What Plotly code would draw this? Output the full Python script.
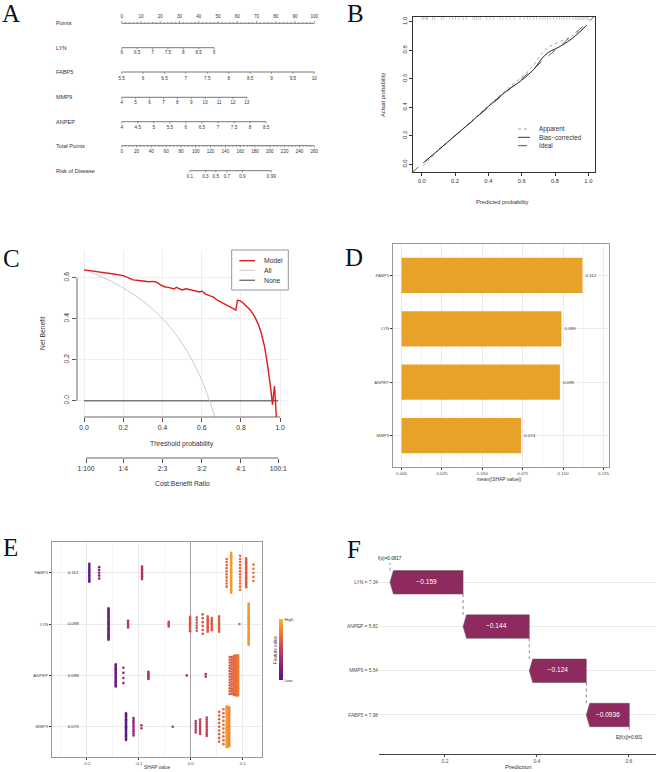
import plotly.graph_objects as go

W, H = 658, 772

# ======================= DATA =======================
# Panel A - nomogram
points_ticks = [0, 10, 20, 30, 40, 50, 60, 70, 80, 90, 100]
lyn_ticks = [6, 6.5, 7, 7.5, 8, 8.5, 9]
lyn_max_points = 48
fabp5_ticks = [5.5, 6, 6.5, 7, 7.5, 8, 8.5, 9, 9.5, 10]
fabp5_max_points = 100
mmp9_ticks = [4, 5, 6, 7, 8, 9, 10, 11, 12, 13]
mmp9_max_points = 65
anpep_ticks = [4, 4.5, 5, 5.5, 6, 6.5, 7, 7.5, 8, 8.5]
anpep_max_points = 75
total_points_ticks = [0, 20, 40, 60, 80, 100, 120, 140, 160, 180, 200, 220, 240, 260]
total_points_max = 260
risk_ticks = [0.1, 0.3, 0.5, 0.7, 0.9, 0.99]
risk_total_points = [92, 113, 127, 142, 163, 202]

# Panel B - calibration
calib_pred = [0.01, 0.1, 0.2, 0.3, 0.4, 0.5, 0.6, 0.65, 0.68, 0.72, 0.76, 0.8, 0.85, 0.9, 0.95, 0.99]
apparent = [-0.01, 0.095, 0.2, 0.305, 0.41, 0.515, 0.612, 0.665, 0.71, 0.775, 0.82, 0.845, 0.87, 0.9, 0.94, 0.975]
bias_corrected = [0.01, 0.1, 0.2, 0.3, 0.405, 0.505, 0.59, 0.64, 0.675, 0.74, 0.785, 0.808, 0.84, 0.88, 0.93, 0.975]
ideal = [-0.06, 1.06]
rug_pred = [0.0, 0.01, 0.02, 0.03, 0.035, 0.065, 0.078, 0.118, 0.132, 0.168, 0.185, 0.203, 0.225,
            0.249, 0.269, 0.309, 0.319, 0.329, 0.343, 0.355, 0.39, 0.41, 0.43, 0.47, 0.486, 0.51,
            0.53, 0.554, 0.59, 0.614, 0.634, 0.65, 0.67, 0.69, 0.71, 0.727, 0.741, 0.755, 0.771,
            0.791, 0.811, 0.827, 0.841, 0.855, 0.871, 0.887, 0.907, 0.922, 0.932, 0.942, 0.952,
            0.962, 0.972, 0.982, 0.992, 1.0]

# Panel C - decision curve
thr_model = [0, 0.05, 0.1, 0.15, 0.2, 0.22, 0.25, 0.28, 0.3, 0.33, 0.35, 0.37, 0.39, 0.41, 0.43,
             0.45, 0.46, 0.47, 0.48, 0.5, 0.52, 0.55, 0.57, 0.59, 0.6, 0.62, 0.64, 0.66, 0.68,
             0.7, 0.72, 0.74, 0.76, 0.774, 0.782, 0.795, 0.81, 0.83, 0.85, 0.87, 0.89, 0.905,
             0.92, 0.935, 0.945, 0.953, 0.961, 0.971, 0.976, 0.981]
nb_model = [0.638, 0.632, 0.625, 0.618, 0.61, 0.603, 0.589, 0.586, 0.584, 0.58, 0.582, 0.578,
            0.565, 0.556, 0.553, 0.549, 0.545, 0.553, 0.548, 0.54, 0.546, 0.54, 0.536, 0.53,
            0.535, 0.52, 0.512, 0.505, 0.49, 0.478, 0.47, 0.46, 0.45, 0.442, 0.49, 0.488,
            0.478, 0.46, 0.44, 0.41, 0.37, 0.325, 0.265, 0.18, 0.12, 0.05, -0.02, 0.072, 0.0, -0.09]
thr_all = [0, 0.05, 0.1, 0.15, 0.2, 0.25, 0.3, 0.35, 0.4, 0.45, 0.5, 0.55, 0.6, 0.625, 0.65, 0.667]
nb_all = [0.64, 0.621, 0.6, 0.577, 0.55, 0.52, 0.486, 0.446, 0.4, 0.345, 0.28, 0.2, 0.1, 0.04, -0.029, -0.081]
thr_none = [0, 0.99]
nb_none = [0, 0]
cb_ticks = [0.01, 0.2, 0.4, 0.6, 0.8, 0.99]
cb_labels = ["1:100", "1:4", "2:3", "3:2", "4:1", "100:1"]

# Panel D - mean |SHAP|
shap_features = ["FABP5", "LYN", "ANPEP", "MMP9"]
mean_abs_shap = [0.112, 0.099, 0.098, 0.074]

# Panel E - SHAP beeswarm columns: (shap value, n points, half spread, feature value 0..1)
beeswarm = {
    "FABP5": [(-0.195, 12, 0.175, 0.06), (-0.176, 5, 0.11, 0.25), (-0.0936, 10, 0.123, 0.42),
              (0.069, 10, 0.27, 0.68), (0.0777, 35, 0.39, 0.9), (0.0949, 12, 0.33, 0.7),
              (0.1065, 24, 0.28, 0.66), (0.1205, 5, 0.16, 0.72)],
    "LYN": [(-0.158, 28, 0.306, 0.15), (-0.1205, 6, 0.065, 0.45), (-0.0423, 4, 0.045, 0.52),
            (-0.0013, 10, 0.14, 0.6), (0.0115, 6, 0.13, 0.6), (0.023, 6, 0.19, 0.6),
            (0.0327, 12, 0.15, 0.62), (0.0404, 8, 0.12, 0.62), (0.0545, 10, 0.15, 0.65),
            (0.0936, 1, 0.0, 0.7), (0.1115, 40, 0.4, 0.9)],
    "ANPEP": [(-0.1442, 18, 0.216, 0.12), (-0.1295, 4, 0.15, 0.3), (-0.0814, 6, 0.07, 0.38),
              (-0.0077, 1, 0.0, 0.38), (0.0289, 2, 0.025, 0.4), (0.075, 14, 0.36, 0.62),
              (0.079, 16, 0.36, 0.66), (0.083, 20, 0.38, 0.7), (0.087, 34, 0.39, 0.72),
              (0.091, 34, 0.39, 0.78)],
    "MMP9": [(-0.1244, 24, 0.26, 0.06), (-0.110, 10, 0.17, 0.28), (-0.0948, 2, 0.03, 0.38),
             (-0.0346, 1, 0.0, 0.4), (0.0096, 6, 0.11, 0.46), (0.018, 8, 0.14, 0.48),
             (0.0308, 10, 0.18, 0.5), (0.0545, 9, 0.29, 0.65), (0.0628, 10, 0.34, 0.7),
             (0.0692, 40, 0.4, 0.92), (0.0737, 38, 0.38, 0.82)],
}
shap_importance_labels = ["0.112", "0.099", "0.098", "0.074"]

# Panel F - waterfall
wf_labels = ["LYN = 7.34", "ANPEP = 5.82", "MMP9 = 5.54", "FABP5 = 7.98"]
wf_contrib = [-0.159, -0.144, -0.124, -0.0936]
f_x = 0.0817
e_f_x = 0.601

# ======================= HELPERS =======================
FONT = "Liberation Sans, Arial, sans-serif"
SERIF = "Liberation Serif, Times New Roman, serif"

fig = go.Figure()
annotations = []
shapes = []


def dom_x(a, b):
    return [a / W, b / W]


def dom_y(top, bottom):
    return [1 - bottom / H, 1 - top / H]


def T(**kw):
    kw.setdefault("showlegend", False)
    kw.setdefault("hoverinfo", "skip")
    fig.add_trace(go.Scatter(**kw))


def ann(text, px, py, size, xanchor="center", yanchor="middle", angle=0, family=FONT, color="#333"):
    annotations.append(dict(text=text, x=px / W, y=1 - py / H, xref="paper", yref="paper",
                            showarrow=False, xanchor=xanchor, yanchor=yanchor, textangle=angle,
                            font=dict(size=size, family=family, color=color)))


def fmt(v):
    return "%g" % v


# ======================= PANEL A =======================
A_x0, A_scale = 121.7, 1.926  # px of 0 points, px per point
xA_range = [(0 - A_x0) / A_scale, (329 - A_x0) / A_scale]


def scale_pts(vals, vmin, vmax, maxpts):
    return [(v - vmin) / (vmax - vmin) * maxpts for v in vals]


def add_row(pos, labels, line_y, lab_y, tick_len, minor=None, minor_len=0):
    T(x=[min(pos), max(pos)], y=[line_y, line_y], mode="lines",
      line=dict(color="#555", width=0.8), xaxis="x", yaxis="y")
    xs, ys = [], []
    for p in pos:
        xs += [p, p, None]
        ys += [line_y, line_y + tick_len, None]
    for p in (minor or []):
        xs += [p, p, None]
        ys += [line_y, line_y + minor_len, None]
    T(x=xs, y=ys, mode="lines", line=dict(color="#555", width=0.6), xaxis="x", yaxis="y")
    T(x=pos, y=[lab_y] * len(pos), mode="text", text=labels,
      textfont=dict(size=4.6, color="#333", family=FONT), xaxis="x", yaxis="y", cliponaxis=False)


def row_name(text, y):
    annotations.append(dict(text=text, x=-35, y=y, xref="x", yref="y", showarrow=False,
                            xanchor="left", yanchor="middle",
                            font=dict(size=5.6, family=FONT, color="#333")))


minor_pts = [v for v in range(0, 101, 2) if v % 10]
add_row(points_ticks, [fmt(v) for v in points_ticks], 23.3, 16.7, -2.2, minor_pts, -1.2)
row_name("Points", 23.3)
add_row(scale_pts(lyn_ticks, lyn_ticks[0], lyn_ticks[-1], lyn_max_points),
        [fmt(v) for v in lyn_ticks], 47.7, 53.3, 1.8)
row_name("LYN", 47.7)
add_row(scale_pts(fabp5_ticks, fabp5_ticks[0], fabp5_ticks[-1], fabp5_max_points),
        [fmt(v) for v in fabp5_ticks], 72, 79, 1.8)
row_name("FABP5", 72)
add_row(scale_pts(mmp9_ticks, mmp9_ticks[0], mmp9_ticks[-1], mmp9_max_points),
        [fmt(v) for v in mmp9_ticks], 97.3, 103.3, 1.8)
row_name("MMP9", 97.3)
add_row(scale_pts(anpep_ticks, anpep_ticks[0], anpep_ticks[-1], anpep_max_points),
        [fmt(v) for v in anpep_ticks], 121.7, 127.7, 1.8)
row_name("ANPEP", 121.7)
minor_tot = [v * 100 / total_points_max for v in range(0, total_points_max + 1, 5) if v % 20]
add_row([v * 100 / total_points_max for v in total_points_ticks],
        [fmt(v) for v in total_points_ticks], 145.7, 152.3, 1.8, minor_tot, 1.1)
row_name("Total Points", 145.7)
add_row([v * 100 / total_points_max for v in risk_total_points],
        [fmt(v) for v in risk_ticks], 170.7, 176.7, 1.8)
row_name("Risk of Disease", 170.7)

# ======================= PANEL B =======================
rx, ry = [], []
for v in rug_pred:
    rx += [v, v, None]
    ry += [1.012, 1.033, None]
T(x=rx, y=ry, mode="lines", line=dict(color="#aaa", width=0.6), xaxis="x2", yaxis="y2")
T(x=ideal, y=ideal, mode="lines", line=dict(color="#444", width=0.8, dash="dash"), xaxis="x2", yaxis="y2")
T(x=calib_pred, y=apparent, mode="lines", line=dict(color="#999", width=0.9, dash="dot", shape="spline"),
  xaxis="x2", yaxis="y2")
T(x=calib_pred, y=bias_corrected, mode="lines", line=dict(color="#222", width=1.0, shape="spline"),
  xaxis="x2", yaxis="y2")

for (txt, py, col, dash) in [("Apparent", 129, "#999", "dot"), ("Bias\u2212corrected", 137.3, "#222", "solid"),
                             ("Ideal", 145.7, "#444", "dash")]:
    shapes.append(dict(type="line", xref="paper", yref="paper", x0=518 / W, x1=530 / W,
                       y0=1 - py / H, y1=1 - py / H, line=dict(color=col, width=0.9, dash=dash)))
    ann(txt, 537, py, 6.3, xanchor="left")
ann("Actual probability", 383, 95, 5.8, angle=-90)
ann("Predicted probability", 503, 202, 5.8)

# ======================= PANEL C =======================
T(x=thr_none, y=nb_none, mode="lines", line=dict(color="#777", width=1.6), xaxis="x3", yaxis="y3")
T(x=thr_all, y=nb_all, mode="lines", line=dict(color="#c4c4c4", width=0.9, shape="spline"),
  xaxis="x3", yaxis="y3")
T(x=thr_model, y=nb_model, mode="lines", line=dict(color="#dd1c1c", width=1.4), xaxis="x3", yaxis="y3")
T(x=cb_ticks, y=[None] * len(cb_ticks), mode="lines", xaxis="x4", yaxis="y3")

shapes.append(dict(type="line", xref="x3", yref="paper", x0=0, x1=1, y0=1 - 417 / H, y1=1 - 417 / H,
                   line=dict(color="#555", width=0.9)))
shapes.append(dict(type="line", xref="paper", yref="y3", x0=77 / W, x1=77 / W, y0=0, y1=0.6,
                   line=dict(color="#555", width=0.9)))
shapes.append(dict(type="line", xref="x3", yref="paper", x0=cb_ticks[0], x1=cb_ticks[-1],
                   y0=1 - 458 / H, y1=1 - 458 / H, line=dict(color="#555", width=0.9)))
shapes.append(dict(type="rect", xref="paper", yref="paper", x0=231.7 / W, x1=288.3 / W,
                   y0=1 - 290 / H, y1=1 - 250 / H, line=dict(color="#888", width=0.9),
                   fillcolor="white"))
for (txt, py, col, wd) in [("Model", 260.7, "#dd1c1c", 1.4), ("All", 270.3, "#c4c4c4", 0.9),
                           ("None", 280.3, "#777", 1.4)]:
    shapes.append(dict(type="line", xref="paper", yref="paper", x0=239.3 / W, x1=255 / W,
                       y0=1 - py / H, y1=1 - py / H, line=dict(color=col, width=wd)))
    ann(txt, 261.7, py, 6.8, xanchor="left")
ann("Net Benefit", 42, 333, 6.8, angle=-90)
ann("Threshold probability", 182, 444, 6.8)
ann("Cost:Benefit Ratio", 182, 483, 6.8)

# ======================= PANEL D =======================
fig.add_trace(go.Bar(x=mean_abs_shap, y=shap_features, orientation="h", width=0.66,
                     marker=dict(color="#E8A22A", line=dict(width=0)),
                     text=shap_importance_labels, textposition="outside", cliponaxis=False,
                     textfont=dict(size=4.4, color="#333", family=FONT),
                     xaxis="x5", yaxis="y5", showlegend=False, hoverinfo="skip"))
ann("mean(|SHAP value|)", 499, 479, 4.9)

# ======================= PANEL E =======================
ex, ey, ec = [], [], []
n_feat = len(shap_features)
for fi, feat in enumerate(shap_features):
    yc = n_feat - 1 - fi
    for (sx, n, hs, fv) in beeswarm[feat]:
        for k in range(n):
            off = 0.0 if n == 1 else -hs + 2 * hs * k / (n - 1)
            ex.append(sx)
            ey.append(yc + off)
            ec.append(fv)
colorscale = [[0, "#4A1A8A"], [0.25, "#8E2177"], [0.5, "#C73E5C"], [0.75, "#EC7434"], [1, "#F7B42C"]]
T(x=ex, y=ey, mode="markers", xaxis="x6", yaxis="y6",
  marker=dict(size=2.6, color=ec, colorscale=colorscale, cmin=0, cmax=1, line=dict(width=0),
              showscale=True,
              colorbar=dict(x=278.5 / W, xanchor="left", y=1 - 649.5 / H, yanchor="middle",
                            len=61, lenmode="pixels", thickness=4, outlinewidth=0,
                            xpad=0, ypad=0, tickvals=[0, 1], ticktext=["Low", "High"],
                            ticks="", ticklabelposition="outside",
                            tickfont=dict(size=4.4, color="#333", family=FONT))))
T(x=[-0.226] * n_feat, y=[n_feat - 1 - i for i in range(n_feat)], mode="text",
  text=shap_importance_labels, textfont=dict(size=4.4, color="#333", family=FONT),
  xaxis="x6", yaxis="y6")
ann("Feature value", 275, 650, 4.6, angle=-90)
ann("SHAP value", 157, 767.5, 4.9)

# ======================= PANEL F =======================
half_h = 0.265
head = 0.0075
n_wf = len(wf_labels)
right = e_f_x
bars = []
for i in range(n_wf - 1, -1, -1):  # bottom (FABP5) to top (LYN)
    left = right + wf_contrib[i]
    bars.append((i, left, right))
    right = left
bars.sort()  # top (LYN) first
for (i, left, rgt) in bars:
    yc = n_wf - 1 - i
    px_ = [rgt, left + head, left, left + head, rgt, rgt]
    py_ = [yc + half_h, yc + half_h, yc, yc - half_h, yc - half_h, yc + half_h]
    T(x=px_, y=py_, mode="lines", fill="toself", fillcolor="#8F2A5E",
      line=dict(color="#555", width=0.5), xaxis="x7", yaxis="y7")
    T(x=[(left + rgt) / 2], y=[yc], mode="text", text=["\u2212%g" % abs(wf_contrib[i])],
      textfont=dict(size=6.6, color="white", family=FONT), xaxis="x7", yaxis="y7")
# dashed connectors
cx, cy = [], []
top_left = bars[0][1]
cx += [top_left, top_left, None]
cy += [n_wf - 1 + half_h, n_wf - 1 + 0.44, None]
for (i, left, rgt) in bars[1:]:
    yc = n_wf - 1 - i
    cx += [left, left, None]
    cy += [yc + 1 - half_h, yc + half_h, None]
last_right = bars[-1][2]
cx += [last_right, last_right, None]
cy += [-half_h, -0.39, None]
T(x=cx, y=cy, mode="lines", line=dict(color="#555", width=0.7, dash="dot"), xaxis="x7", yaxis="y7")
annotations.append(dict(text="f(x)=%g" % f_x, x=top_left, y=n_wf - 1 + 0.55, xref="x7", yref="y7",
                        showarrow=False, font=dict(size=4.6, color="#222", family=FONT)))
annotations.append(dict(text="E[f(x)]=%g" % e_f_x, x=last_right, y=-0.51, xref="x7", yref="y7",
                        showarrow=False, font=dict(size=4.6, color="#222", family=FONT)))
ann("Prediction", 518, 767, 6)

# ======================= PANEL LETTERS =======================
for (L, px, py) in [("A", 11, 13.5), ("B", 355, 13.5), ("C", 11.5, 258), ("D", 354, 257),
                    ("E", 10, 547.5), ("F", 353.5, 549)]:
    ann(L, px, py, 25, family=SERIF, color="#111")

# ======================= LAYOUT =======================
tickf = dict(size=5.8, color="#333", family=FONT)
small = dict(size=4.4, color="#4D4D4D", family=FONT)
hidden = dict(visible=False, showgrid=False, zeroline=False)

layout = dict(
    width=W, height=H, margin=dict(l=0, r=0, t=0, b=0),
    paper_bgcolor="white", plot_bgcolor="rgba(0,0,0,0)",
    showlegend=False, font=dict(family=FONT),
    xaxis=dict(domain=dom_x(0, 329), range=xA_range, anchor="y", **hidden),
    yaxis=dict(domain=dom_y(0, 200), range=[200, 0], anchor="x", **hidden),
    xaxis2=dict(domain=dom_x(413, 595), range=[-0.052, 1.04], anchor="y2", showline=True, mirror=True,
                linecolor="#333", linewidth=0.8, ticks="outside", ticklen=3, tickcolor="#333",
                tickvals=[0, 0.2, 0.4, 0.6, 0.8, 1.0], ticktext=["0.0", "0.2", "0.4", "0.6", "0.8", "1.0"],
                tickfont=tickf, showgrid=False, zeroline=False),
    yaxis2=dict(domain=dom_y(17, 172), range=[-0.054, 1.033], anchor="x2", showline=True, mirror=True,
                linecolor="#333", linewidth=0.8, ticks="outside", ticklen=3, tickcolor="#333",
                tickvals=[0, 0.2, 0.4, 0.6, 0.8, 1.0], ticktext=["0.0", "0.2", "0.4", "0.6", "0.8", "1.0"],
                tickangle=-90, tickfont=tickf, showgrid=False, zeroline=False),
    xaxis3=dict(domain=dom_x(77, 288), range=[-0.036, 1.04], anchor="y3", showline=False,
                ticks="outside", ticklen=4, tickcolor="#555",
                tickvals=[0, 0.2, 0.4, 0.6, 0.8, 1.0], ticktext=["0.0", "0.2", "0.4", "0.6", "0.8", "1.0"],
                tickfont=dict(size=6.8, color="#333", family=FONT), showgrid=True, gridcolor="#EEEEEE",
                gridwidth=0.8, zeroline=False),
    yaxis3=dict(domain=dom_y(250, 417), range=[-0.0795, 0.735], anchor="x3", showline=False,
                ticks="outside", ticklen=4, tickcolor="#555",
                tickvals=[0, 0.2, 0.4, 0.6], ticktext=["0.0", "0.2", "0.4", "0.6"], tickangle=-90,
                tickfont=dict(size=6.8, color="#333", family=FONT), showgrid=True, gridcolor="#EEEEEE",
                gridwidth=0.8, zeroline=False),
    xaxis4=dict(overlaying="x3", anchor="free", position=1 - 458 / H, side="bottom",
                range=[-0.036, 1.04], tickvals=cb_ticks, ticktext=cb_labels, ticks="outside",
                ticklen=4, tickcolor="#555", tickfont=dict(size=6.8, color="#333", family=FONT),
                showgrid=False, zeroline=False, showline=False),
    xaxis5=dict(domain=dom_x(393, 609), range=[-0.0053, 0.1284], anchor="y5", showline=True, mirror=True,
                linecolor="#999", linewidth=0.8, ticks="outside", ticklen=2, tickcolor="#333",
                tickvals=[0, 0.025, 0.05, 0.075, 0.1, 0.125],
                ticktext=["0.000", "0.025", "0.050", "0.075", "0.100", "0.125"], tickfont=small,
                showgrid=True, gridcolor="#EBEBEB", gridwidth=0.7, zeroline=False,
                minor=dict(tickvals=[0.0125, 0.0375, 0.0625, 0.0875, 0.1125], showgrid=True,
                           gridcolor="#F4F4F4", gridwidth=0.5, ticks="")),
    yaxis5=dict(domain=dom_y(244, 467), type="category", categoryorder="array",
                categoryarray=shap_features[::-1], range=[-0.59, 3.59], anchor="x5", showline=True,
                mirror=True, linecolor="#999", linewidth=0.8, ticks="outside", ticklen=2, tickcolor="#333",
                tickfont=small, showgrid=True, gridcolor="#EBEBEB", gridwidth=0.7, zeroline=False),
    xaxis6=dict(domain=dom_x(52, 262), range=[-0.2667, 0.137], anchor="y6", showline=True, mirror=True,
                linecolor="#999", linewidth=0.8, ticks="outside", ticklen=2, tickcolor="#333",
                tickvals=[-0.2, -0.1, 0, 0.1], ticktext=["-0.2", "-0.1", "0.0", "0.1"], tickfont=small,
                showgrid=True, gridcolor="#EBEBEB", gridwidth=0.7, zeroline=True, zerolinecolor="#A0A0A0",
                zerolinewidth=1,
                minor=dict(tickvals=[-0.25, -0.15, -0.05, 0.05], showgrid=True, gridcolor="#F4F4F4",
                           gridwidth=0.5, ticks="")),
    yaxis6=dict(domain=dom_y(542, 757), range=[-0.59, 3.6], anchor="x6", showline=True, mirror=True,
                linecolor="#999", linewidth=0.8, ticks="outside", ticklen=2, tickcolor="#333",
                tickvals=[n_feat - 1 - i for i in range(n_feat)], ticktext=shap_features, tickfont=small,
                showgrid=True, gridcolor="#EBEBEB", gridwidth=0.7, zeroline=False),
    xaxis7=dict(domain=dom_x(379, 656), range=[0.0565, 0.659], anchor="y7", showline=True,
                linecolor="#444", linewidth=1.2, ticks="outside", ticklen=2, tickcolor="#444",
                tickvals=[0.2, 0.4, 0.6], ticktext=["0.2", "0.4", "0.6"],
                tickfont=dict(size=5, color="#4D4D4D", family=FONT), showgrid=False, zeroline=False),
    yaxis7=dict(domain=dom_y(545, 754), range=[-0.882, 3.844], anchor="x7", showline=False,
                tickvals=[n_wf - 1 - i for i in range(n_wf)], ticktext=wf_labels, ticks="",
                tickfont=dict(size=4.8, color="#4D4D4D", family=FONT), showgrid=True,
                gridcolor="#EBEBEB", gridwidth=0.8, zeroline=False),
    annotations=annotations,
    shapes=shapes,
)
fig.update_layout(**layout)
fig.write_html("out.html")
